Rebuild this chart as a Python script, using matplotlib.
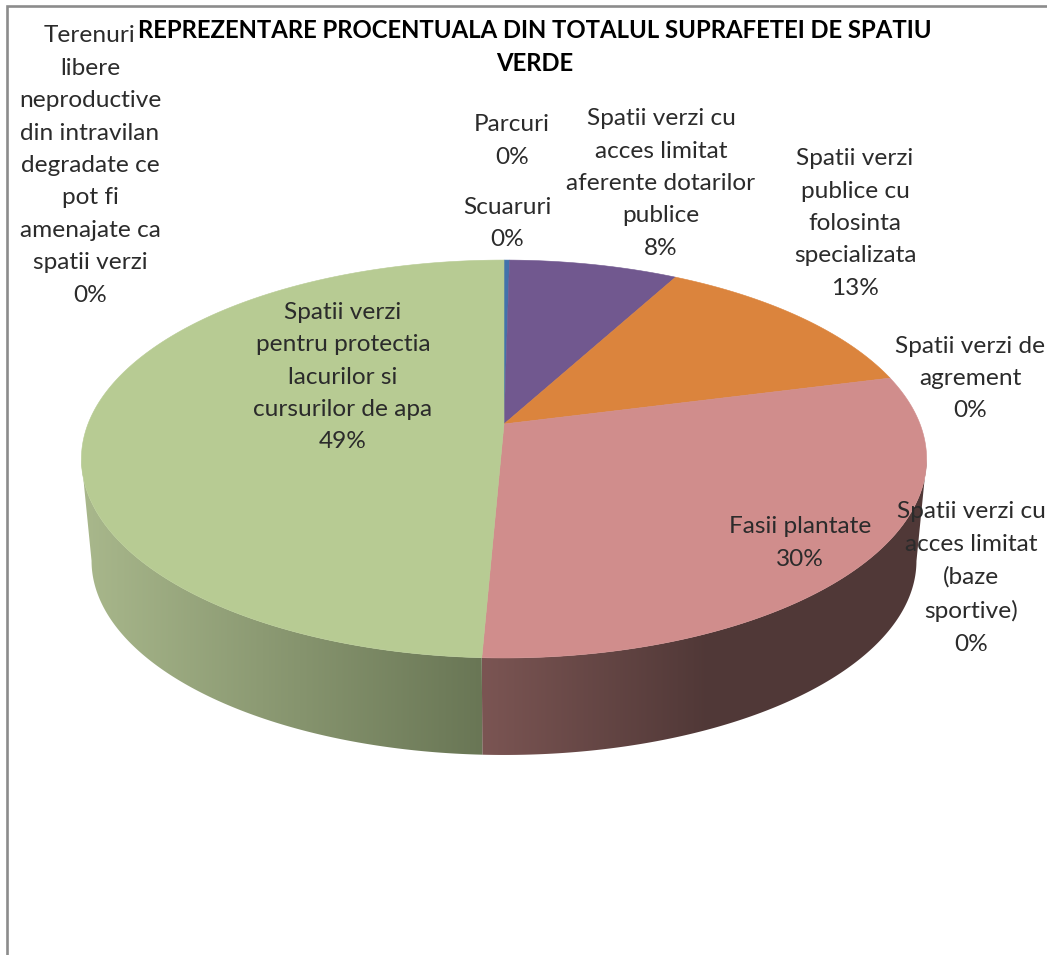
import numpy as np
from matplotlib import pyplot as plt
from matplotlib.patches import Polygon
from matplotlib.colors import to_rgb

title = 'REPREZENTARE PROCENTUALA DIN TOTALUL SUPRAFETEI DE SPATIU\nVERDE'
names = ['Scuaruri',
         'Parcuri',
         'Spatii verzi cu\nacces limitat\naferente dotarilor\npublice',
         'Spatii verzi\npublice cu\nfolosinta\nspecializata',
         'Spatii verzi de\nagrement',
         'Spatii verzi cu\nacces limitat\n(baze\nsportive)',
         'Fasii plantate',
         'Spatii verzi\npentru protectia\nlacurilor si\ncursurilor de apa',
         'Terenuri\nlibere\nneproductive\ndin intravilan\ndegradate ce\npot fi\namenajate ca\nspatii verzi']
values = [0.25, 0.0, 7.65, 13.1, 0.0, 0.0, 29.7, 49.3, 0.0]
colors = ['#4272ab', '#be4b48', '#71588f', '#db843d', '#4198af', '#93a9cf', '#d08d8c', '#b7cb93', '#a99bbd']
side_left = {6: '#7b5553', 7: '#a9b88c'}
side_right = {6: '#503837', 7: '#697655'}
side_range = {6: (482, 710), 7: (80, 483)}

# where the labels sit, in pixels
label_x = [507, 512, 661, 855, 970, 971, 800, 343, 90]
label_y = [223.5, 141, 183.5, 223.5, 378.5, 578, 543, 377, 165.5]

cx, cy = 504, 424
rx, ry = 416, 192.8
persp = 0.176
shrink = 0.976
drop = 102.6


def top_edge(theta):
    u, v = np.sin(theta), np.cos(theta)
    w = 1 + persp * v
    return cx + rx * u / w, cy - ry * v / w


def bottom_edge(theta):
    x, y = top_edge(theta)
    return cx + (x - cx) * shrink, cy + drop + (y - cy) * shrink


fig = plt.figure(figsize=(10.47, 9.55), dpi=100)
ax = fig.add_axes([0, 0, 1, 1])

# frame of the chart area
ax.plot([7, 7, 1047], [955, 6, 6], color='#8c8c8c', lw=1.9, solid_joinstyle='miter')

edges = np.cumsum([0] + values) / sum(values) * 2 * np.pi

# side wall first, only the part that faces the viewer
for i, val in enumerate(values):
    if i not in side_left:
        continue
    th = np.linspace(edges[i], edges[i + 1], 600)
    th = th[np.cos(th) < -persp]
    xt, yt = top_edge(th)
    xb, yb = bottom_edge(th)
    pts = list(zip(xt, yt)) + list(zip(xb[::-1], yb[::-1]))
    wall = Polygon(pts, closed=True, facecolor='none', edgecolor='none')
    ax.add_patch(wall)
    x0, x1 = side_range[i]
    t = np.linspace(0, 1, 256)[:, None]
    c0 = np.array(to_rgb(side_left[i]))
    c1 = np.array(to_rgb(side_right[i]))
    grad = c0 + (c1 - c0) * t
    im = ax.imshow(grad[None, :, :], extent=(x0, x1, 800, 250), aspect='auto', zorder=1)
    im.set_clip_path(wall)
    # past the gradient's end the wall stays at its end colour
    if i == 6:
        im2 = ax.imshow(grad[None, -1:, :], extent=(x1, 940, 800, 250), aspect='auto', zorder=1)
        im2.set_clip_path(wall)

for i, val in enumerate(values):
    if val == 0:
        continue
    th = np.linspace(edges[i], edges[i + 1], 300)
    xs, ys = top_edge(th)
    pts = [(cx, cy)] + list(zip(xs, ys))
    ax.add_patch(Polygon(pts, closed=True, facecolor=colors[i], edgecolor=colors[i], lw=0.4, zorder=2))

ax.set_xlim(0, 1047)
ax.set_ylim(955, 0)
ax.axis('off')

for i, name in enumerate(names):
    ax.text(label_x[i], label_y[i], f'{name}\n{round(values[i])}%', ha='center', va='center',
            fontsize=17.6, color='#2b2b2b', linespacing=1.67, family='Lato', zorder=3)

ax.text(534.5, 47, title, ha='center', va='center', fontsize=17.2, fontweight='bold',
        color='black', linespacing=1.56, family='Lato', zorder=3)

fig.savefig('out.png', dpi=100, facecolor='white')
